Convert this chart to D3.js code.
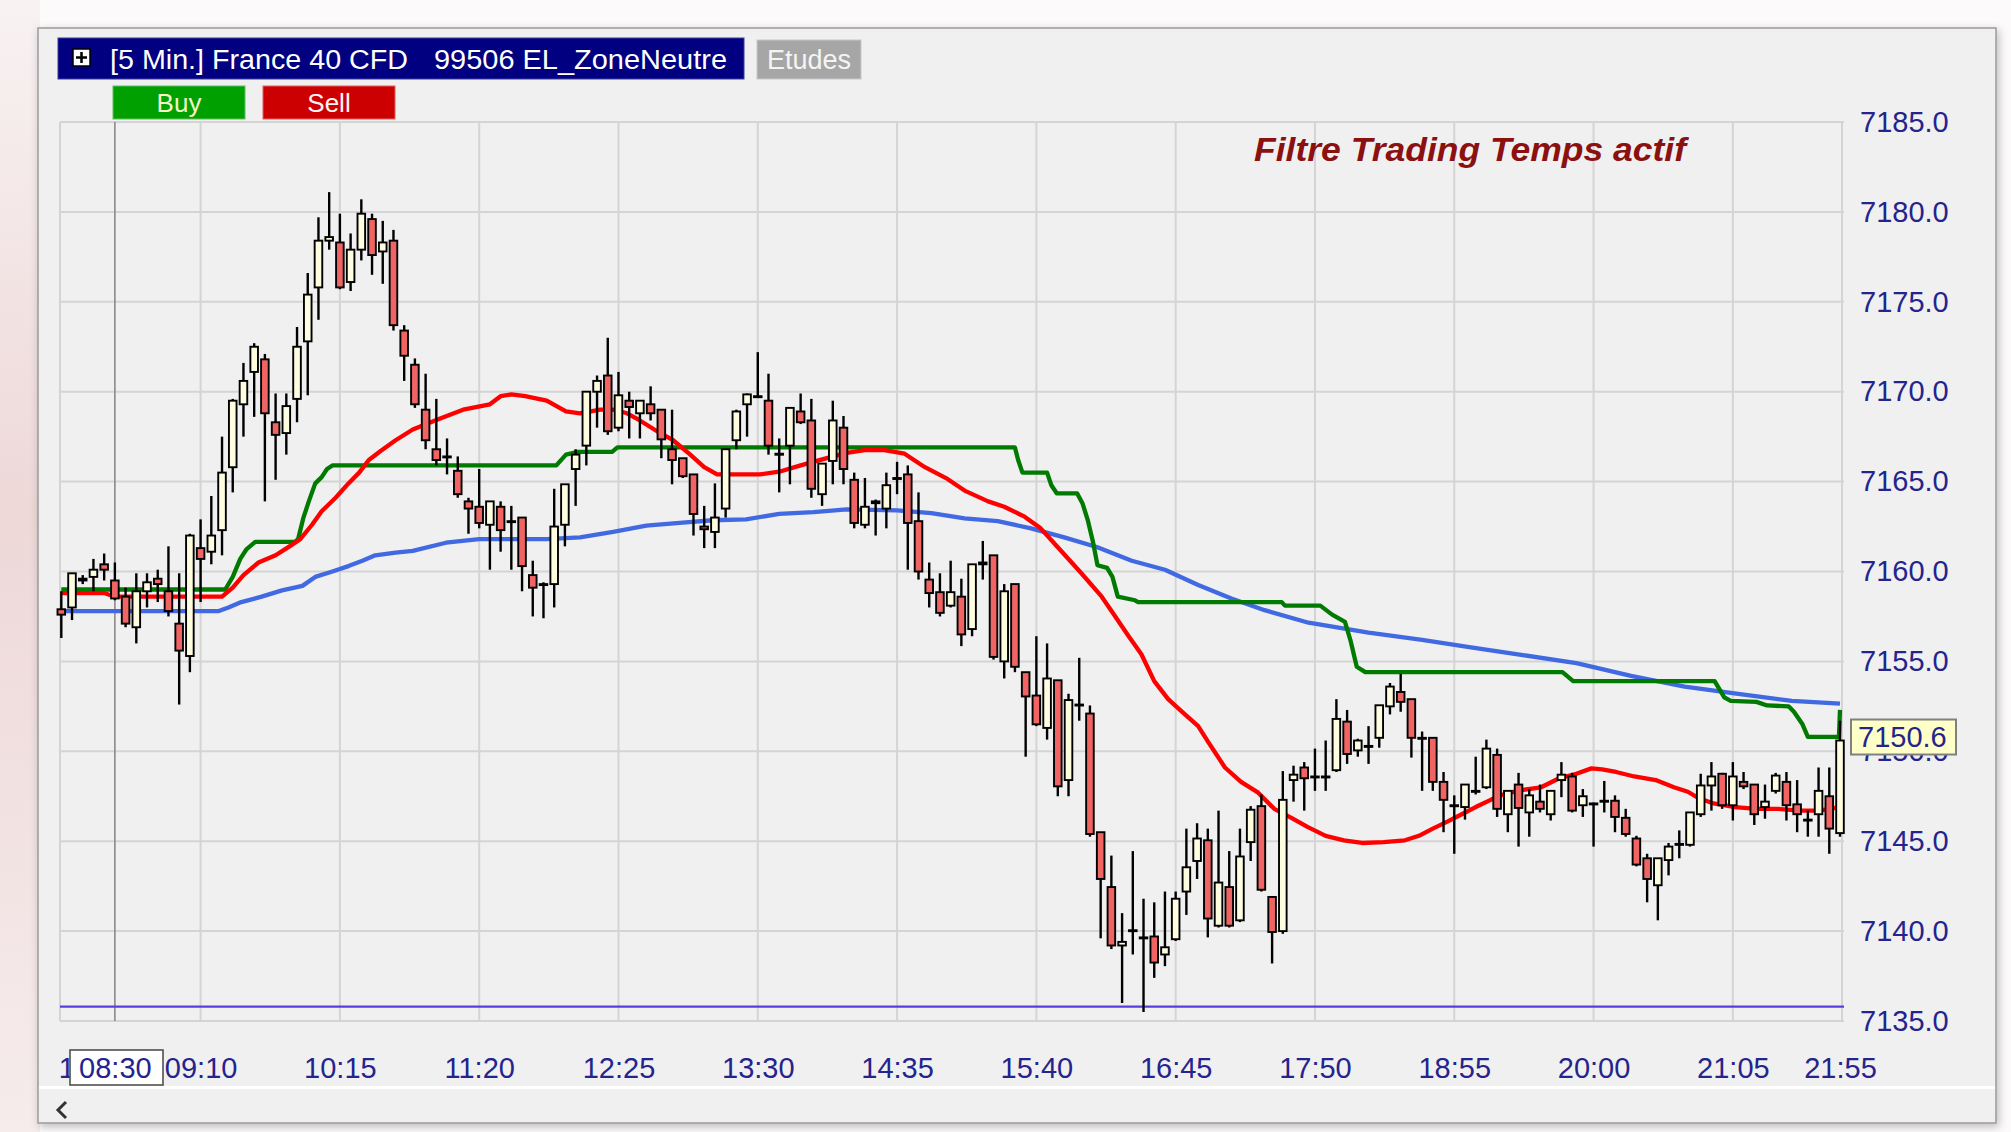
<!DOCTYPE html>
<html><head><meta charset="utf-8">
<script src="https://cdn.jsdelivr.net/npm/d3@7"></script>
<style>
html,body{margin:0;padding:0;background:#fcfafa;overflow:hidden;}
svg{display:block;}
text{font-family:"Liberation Sans",Arial,sans-serif;}
</style></head><body>
<svg id="c" width="2011" height="1132"></svg>
<script>
// ---------------- DATA ----------------
const firstBarTime = "08:05";   // 5-minute bars, one per index
const barOpen = [
7157.9,7158.0,7159.5,7159.7,7160.4,7159.5,7158.6,7156.9,7158.9,7159.6,
7158.9,7157.1,7155.3,7161.3,7161.1,7162.3,7165.8,7169.3,7171.1,7171.8,
7168.3,7167.7,7169.6,7172.8,7175.8,7178.4,7178.3,7176.1,7177.9,7179.6,
7177.8,7178.4,7173.4,7171.5,7169.0,7166.8,7166.4,7165.6,7163.9,7163.6,
7162.6,7163.6,7162.8,7163.0,7159.8,7159.3,7159.3,7162.6,7165.7,7167.0,
7170.0,7170.9,7168.0,7169.5,7168.8,7169.3,7169.0,7166.8,7166.3,7165.4,
7162.5,7162.2,7163.5,7167.3,7169.3,7169.7,7169.5,7166.5,7167.0,7168.9,
7168.4,7164.3,7166.15,7168.0,7165.1,7162.6,7163.8,7163.5,7165.15,7165.4,
7162.8,7159.55,7158.85,7158.1,7158.6,7156.8,7160.4,7160.9,7155.0,7159.3,
7154.4,7153.1,7151.3,7153.95,7148.4,7152.6,7152.1,7145.5,7142.45,7139.2,
7140.0,7139.6,7139.7,7138.7,7139.55,7142.2,7143.9,7145.05,7140.3,7142.45,
7140.6,7144.95,7146.95,7141.9,7140.0,7148.4,7149.1,7148.6,7148.55,7148.95,
7151.65,7150.05,7150.3,7150.75,7152.5,7153.3,7152.9,7150.75,7150.75,7148.3,
7147.0,7146.9,7147.75,7148.0,7149.8,7146.5,7148.15,7146.6,7147.2,7146.5,
7148.4,7148.6,7147.0,7147.1,7147.25,7147.25,7146.3,7145.15,7144.05,7142.55,
7143.95,7144.85,7144.8,7146.5,7148.1,7148.75,7147.0,7148.3,7148.15,7146.9,
7147.8,7148.3,7147.05,7146.2,7146.5,7147.5,7145.45];
const barHigh = [
7158.9,7159.9,7159.8,7160.7,7161.0,7160.5,7159.1,7159.9,7159.9,7160.1,
7161.4,7159.9,7162.1,7162.9,7164.2,7167.5,7169.6,7171.6,7172.7,7172.1,
7169.9,7169.9,7173.6,7176.6,7179.7,7181.1,7179.9,7178.8,7180.7,7179.9,
7179.5,7179.0,7173.7,7171.85,7171.0,7169.6,7167.4,7166.4,7164.1,7165.7,
7163.9,7163.9,7163.65,7163.0,7160.6,7159.4,7164.6,7164.85,7166.8,7170.0,
7170.9,7173.0,7171.1,7170.0,7169.5,7170.3,7169.0,7169.0,7166.3,7165.4,
7163.65,7164.9,7166.8,7169.0,7169.9,7172.2,7171.0,7167.4,7169.1,7169.9,
7169.6,7166.0,7169.5,7168.65,7165.5,7165.2,7164.0,7165.5,7166.1,7165.9,
7164.4,7160.5,7159.9,7160.6,7159.6,7160.4,7161.7,7160.9,7159.3,7159.3,
7154.4,7156.4,7156.0,7153.95,7153.2,7155.2,7152.55,7145.5,7144.2,7141.0,
7144.45,7141.8,7141.6,7142.2,7142.2,7145.7,7146.0,7145.7,7146.7,7144.45,
7145.7,7146.95,7147.6,7141.9,7148.9,7149.2,7149.4,7150.15,7150.6,7152.9,
7152.3,7150.7,7151.4,7152.56,7153.8,7154.3,7152.9,7151.1,7150.75,7148.85,
7147.55,7148.15,7149.7,7150.65,7150.15,7147.8,7148.8,7147.9,7148.15,7147.8,
7149.4,7148.8,7147.9,7147.15,7148.35,7147.55,7146.8,7145.3,7144.3,7144.05,
7144.9,7145.6,7146.6,7148.75,7149.4,7148.8,7149.4,7148.85,7148.15,7148.15,
7148.8,7148.85,7148.4,7146.7,7149.1,7149.1,7151.7];
const barLow = [
7156.3,7157.3,7159.3,7158.9,7159.5,7158.4,7156.9,7156.0,7158.0,7158.3,
7157.5,7152.6,7154.4,7158.3,7160.4,7160.9,7164.4,7167.5,7168.6,7163.9,
7165.1,7166.5,7168.3,7169.8,7174.0,7177.9,7175.7,7175.6,7177.3,7176.5,
7176.0,7173.4,7170.6,7169.1,7166.8,7165.9,7165.4,7164.1,7162.1,7162.4,
7160.1,7161.1,7160.1,7158.9,7157.5,7157.4,7158.0,7161.4,7163.65,7165.9,
7168.0,7167.6,7167.8,7167.4,7167.4,7168.4,7166.3,7164.85,7165.2,7162.0,
7161.3,7161.3,7163.0,7166.8,7167.5,7169.67,7166.5,7164.4,7164.85,7168.2,
7164.1,7163.65,7164.85,7164.85,7162.4,7162.4,7162.0,7162.4,7164.3,7160.1,
7159.55,7158.0,7157.5,7158.0,7155.85,7156.4,7159.55,7155.1,7154.05,7154.4,
7149.7,7151.4,7150.65,7147.5,7147.5,7151.7,7145.25,7139.6,7139.0,7136.0,
7138.7,7135.5,7137.4,7138.05,7139.45,7140.9,7142.9,7139.65,7140.2,7140.2,
7140.5,7143.9,7142.2,7138.2,7139.85,7147.2,7146.7,7147.8,7147.8,7148.85,
7149.3,7149.7,7149.3,7150.2,7152.05,7152.2,7149.65,7147.8,7147.8,7145.5,
7144.3,7146.2,7147.6,7147.9,7146.35,7145.5,7144.7,7145.25,7146.6,7146.15,
7147.45,7146.6,7146.35,7144.7,7146.6,7145.5,7145.25,7143.6,7141.6,7140.6,
7143.1,7144.05,7144.7,7146.35,7146.7,7146.8,7146.15,7147.9,7145.9,7146.25,
7147.65,7146.15,7145.5,7145.25,7145.25,7144.3,7145.25];
const barClose = [
7157.6,7159.9,7159.6,7160.1,7160.1,7158.5,7157.1,7158.9,7159.4,7159.3,
7157.8,7155.6,7162.0,7160.7,7162.0,7165.5,7169.5,7170.6,7172.5,7168.8,
7167.6,7169.2,7172.5,7175.4,7178.4,7178.6,7175.8,7177.9,7179.9,7177.6,
7178.3,7173.7,7172.0,7169.3,7167.3,7166.2,7166.35,7164.3,7163.5,7162.7,
7163.9,7162.3,7162.75,7160.3,7159.1,7159.3,7162.5,7164.85,7166.5,7170.0,
7170.6,7167.8,7169.8,7169.15,7169.5,7168.8,7167.35,7166.2,7165.3,7163.2,
7162.35,7163.0,7166.8,7168.9,7169.85,7169.75,7167.0,7166.55,7169.1,7168.3,
7164.6,7166.0,7168.4,7165.7,7162.7,7163.6,7163.9,7164.8,7165.2,7162.7,
7160.0,7158.8,7157.7,7158.85,7156.5,7160.4,7160.5,7155.25,7158.9,7154.7,
7153.05,7151.5,7154.05,7148.05,7152.85,7152.55,7145.4,7142.9,7139.2,7139.4,
7140.05,7139.65,7138.25,7139.1,7141.8,7143.55,7145.15,7140.7,7142.7,7140.3,
7144.15,7146.75,7142.3,7139.95,7147.3,7148.7,7148.5,7148.55,7148.6,7151.8,
7149.85,7150.6,7150.3,7152.56,7153.6,7152.75,7150.75,7150.7,7148.3,7147.3,
7147.0,7148.15,7147.8,7150.15,7146.8,7147.8,7146.85,7147.55,7146.8,7147.8,
7148.7,7146.7,7147.5,7147.1,7147.25,7146.35,7145.4,7143.7,7142.9,7144.05,
7144.7,7144.85,7146.6,7148.1,7148.6,7147.0,7148.6,7148.05,7146.5,7147.2,
7148.65,7147.0,7146.5,7146.2,7147.8,7145.7,7150.6];

const timeTicks  = ["08:30","09:10","10:15","11:20","12:25","13:30","14:35","15:40","16:45","17:50","18:55","20:00","21:05","21:55"];
const priceTicks = [7185,7180,7175,7170,7165,7160,7155,7150,7145,7140,7135];

// indicator lines: [bar index, value]
const redLine = [[0,7158.8],[4,7158.8],[5,7158.6],[15,7158.6],[16,7159.1],[17,7159.8],[18.4,7160.5],[20,7160.9],[21.3,7161.4],[22.3,7161.8],[23.4,7162.6],[24.3,7163.35],[25.6,7164.1],[26.8,7164.9],[27.8,7165.5],[28.7,7166.2],[29.8,7166.7],[31.2,7167.3],[32.8,7167.9],[35.3,7168.5],[37.5,7169.0],[40,7169.3],[41,7169.75],[42,7169.85],[43.3,7169.75],[45.3,7169.5],[47.1,7168.9],[48.4,7168.8],[50.3,7169.0],[51.5,7169.0],[52.8,7168.8],[54,7168.4],[55.6,7167.8],[57.1,7167.3],[58.7,7166.5],[60,7165.8],[61.2,7165.4],[62.7,7165.4],[65.2,7165.4],[67,7165.55],[69,7165.9],[71.1,7166.25],[73.3,7166.6],[75,7166.75],[76.8,7166.75],[78.7,7166.55],[80.6,7165.8],[82.7,7165.15],[84.3,7164.5],[86.5,7163.9],[88,7163.6],[89.9,7163.05],[91.4,7162.4],[93,7161.35],[95.2,7159.9],[97.1,7158.6],[98.3,7157.55],[99.5,7156.5],[100.8,7155.4],[102,7153.9],[103.3,7152.9],[104.5,7152.25],[106.1,7151.4],[107,7150.55],[108.6,7149.1],[110.1,7148.3],[111.7,7147.7],[113.2,7146.8],[114.8,7146.3],[116.3,7145.8],[118,7145.3],[119.7,7145.05],[121.4,7144.9],[123.4,7144.95],[125.4,7145.05],[126.7,7145.3],[128,7145.7],[129.4,7146.1],[130.7,7146.5],[132,7146.9],[133.4,7147.3],[134.8,7147.65],[136.4,7147.85],[138.1,7148.0],[139.8,7148.5],[141.4,7148.75],[142.8,7149.05],[143.8,7149.0],[145.1,7148.85],[146.8,7148.6],[148.8,7148.4],[150.5,7148.0],[151.8,7147.75],[152.8,7147.4],[154.2,7147.1],[156.2,7146.9],[158.2,7146.8],[160.2,7146.8],[162.2,7146.7],[164,7146.7],[166,7146.9]];
const blueLine = [[0,7157.8],[14.7,7157.8],[15.6,7158.0],[16.8,7158.3],[18.7,7158.6],[20.6,7158.95],[22.5,7159.2],[23.7,7159.7],[25.3,7160.0],[26.8,7160.3],[28.1,7160.6],[29.3,7160.9],[31.2,7161.05],[32.8,7161.15],[35.9,7161.6],[39,7161.8],[45.3,7161.8],[48.4,7161.9],[51.5,7162.2],[54.6,7162.55],[57.7,7162.7],[60.8,7162.85],[63.9,7162.9],[67,7163.2],[70.2,7163.3],[73.3,7163.45],[78,7163.4],[81.2,7163.25],[84.3,7162.95],[87.4,7162.8],[90.5,7162.4],[93.6,7161.9],[96.7,7161.35],[99.9,7160.6],[103,7160.1],[106.1,7159.25],[109.2,7158.5],[112.3,7157.85],[116.4,7157.15],[122,7156.6],[127,7156.2],[131.4,7155.8],[136.4,7155.35],[141.4,7154.9],[146.5,7154.2],[151.5,7153.6],[156.5,7153.2],[161.5,7152.8],[166,7152.65]];
const greenLine = [[0,7159.0],[15.3,7159.0],[16,7159.7],[16.7,7160.7],[17.3,7161.25],[18.1,7161.65],[21.8,7161.65],[22.1,7161.8],[22.6,7163.0],[23.1,7163.9],[23.7,7164.9],[24.3,7165.25],[24.8,7165.7],[25.3,7165.9],[46.2,7165.9],[47.1,7166.5],[48.2,7166.65],[51.4,7166.65],[51.9,7166.9],[89.0,7166.9],[89.3,7166.2],[89.7,7165.5],[92.0,7165.5],[92.4,7164.8],[92.9,7164.35],[94.8,7164.35],[95.3,7163.8],[95.8,7162.85],[96.3,7161.6],[96.7,7160.35],[97.6,7160.2],[98.1,7159.7],[98.6,7158.6],[100.2,7158.4],[100.5,7158.3],[113.9,7158.3],[114.2,7158.1],[117.5,7158.1],[118.6,7157.6],[119.8,7157.2],[120.3,7156.2],[120.9,7154.7],[121.7,7154.4],[140.1,7154.4],[141.1,7153.9],[154.3,7153.9],[155.2,7153.0],[155.8,7152.8],[158.2,7152.75],[159.2,7152.55],[161.2,7152.5],[161.7,7152.2],[162.5,7151.5],[163.0,7150.8],[165.9,7150.8],[166,7152.3]];
const zoneLevel = 7135.8;

// ---------------- DRAW ----------------
const W = 2011, H = 1132;
const svg = d3.select("#c");
const defs = svg.append("defs");
const lg = defs.append("linearGradient").attr("id","leftbg").attr("x1",0).attr("y1",0).attr("x2",0).attr("y2",1);
lg.append("stop").attr("offset","0%").attr("stop-color","#f8f2f2");
lg.append("stop").attr("offset","45%").attr("stop-color","#eed8d8");
lg.append("stop").attr("offset","100%").attr("stop-color","#f6ecec");
const sh = defs.append("filter").attr("id","sh").attr("x","-2%").attr("y","-2%").attr("width","104%").attr("height","104%");
sh.append("feDropShadow").attr("dx",2).attr("dy",3).attr("stdDeviation",4).attr("flood-color","#000").attr("flood-opacity",0.25);

svg.append("rect").attr("width",W).attr("height",H).attr("fill","#fcfafa");
svg.append("rect").attr("x",0).attr("y",0).attr("width",40).attr("height",H).attr("fill","url(#leftbg)");
svg.append("rect").attr("x",38).attr("y",28).attr("width",1958).attr("height",1095)
  .attr("fill","#f0f0f0").attr("stroke","#9a9a9a").attr("stroke-width",1.5).attr("filter","url(#sh)");

const nBars = barClose.length;
const x = d3.scaleLinear().domain([0, nBars-1]).range([61.3, 1840]);
const y = d3.scaleLinear().domain([7135, 7185]).range([1021, 122]);
const plotL = 60, plotR = 1844;

function toMin(t){const p=t.split(":");return +p[0]*60 + +p[1];}
const tickIdx = timeTicks.map(t => (toMin(t)-toMin(firstBarTime))/5);

// grid
const grid = svg.append("g");
grid.selectAll(".hg").data(priceTicks).join("line")
  .attr("x1",plotL).attr("x2",plotR).attr("y1",d=>y(d)).attr("y2",d=>y(d))
  .attr("stroke","#d4d4d4").attr("stroke-width",2);
const vIdx = tickIdx.filter((d,i)=> i>0 && i<timeTicks.length-1);
grid.selectAll(".vg").data(vIdx).join("line")
  .attr("x1",d=>x(d)).attr("x2",d=>x(d)).attr("y1",y(7185)).attr("y2",y(7135))
  .attr("stroke","#d4d4d4").attr("stroke-width",2);
grid.append("line").attr("x1",plotL).attr("x2",plotL).attr("y1",y(7185)).attr("y2",y(7135)).attr("stroke","#d4d4d4").attr("stroke-width",2);
grid.append("line").attr("x1",x(tickIdx[tickIdx.length-1])+2).attr("x2",x(tickIdx[tickIdx.length-1])+2).attr("y1",y(7185)).attr("y2",y(7135)).attr("stroke","#d4d4d4").attr("stroke-width",2);
grid.append("line").attr("x1",x(tickIdx[0])).attr("x2",x(tickIdx[0])).attr("y1",y(7185)).attr("y2",y(7135)).attr("stroke","#8a8a8a").attr("stroke-width",1.6);

// zone line
svg.append("line").attr("x1",plotL).attr("x2",plotR).attr("y1",y(zoneLevel)).attr("y2",y(zoneLevel))
  .attr("stroke","#5a3de0").attr("stroke-width",2.2);

// indicator lines
const ln = d3.line().x(d=>x(d[0])).y(d=>y(d[1]));
[[blueLine,"#4169e1"],[greenLine,"#007a00"],[redLine,"#ff0000"]].forEach(([data,col])=>{
  svg.append("path").attr("d",ln(data)).attr("fill","none").attr("stroke",col)
    .attr("stroke-width",4.3).attr("stroke-linejoin","round");
});

// candles
const bars = d3.range(nBars);
const cg = svg.append("g");
cg.selectAll(".wick").data(bars).join("line")
  .attr("x1",i=>x(i)).attr("x2",i=>x(i)).attr("y1",i=>y(barHigh[i])).attr("y2",i=>y(barLow[i]))
  .attr("stroke","#000").attr("stroke-width",2.4);
cg.selectAll(".body").data(bars).join("rect")
  .attr("x",i=>x(i)-3.8).attr("width",7.6)
  .attr("y",i=>y(Math.max(barOpen[i],barClose[i])))
  .attr("height",i=>Math.max(1,Math.abs(y(barOpen[i])-y(barClose[i]))))
  .attr("fill",i=>barClose[i]>=barOpen[i]?"#fffde0":"#f06464")
  .attr("stroke","#000").attr("stroke-width",1.9);

// y axis
const yAxis = d3.axisRight(y).tickValues(priceTicks).tickFormat(d3.format(".1f")).tickSize(0).tickPadding(0);
const gy = svg.append("g").attr("transform","translate(1860,0)").call(yAxis)
  .attr("font-size",29).attr("font-family","Liberation Sans, Arial, sans-serif");
gy.select(".domain").remove();
gy.selectAll("text").attr("fill","#24248c");

// x axis
svg.append("text").attr("x",75).attr("y",1078).attr("text-anchor","end").attr("font-size",29).attr("fill","#24248c").text("1");
svg.append("rect").attr("x",70).attr("y",1050).attr("width",93).attr("height",35).attr("fill","#ffffff").attr("stroke","#505050").attr("stroke-width",1.6);
const xAxis = d3.axisBottom(x).tickValues(tickIdx).tickFormat((d,i)=>timeTicks[i]).tickSize(0).tickPadding(0);
const gx = svg.append("g").attr("transform","translate(0,1057)").call(xAxis)
  .attr("font-size",29).attr("font-family","Liberation Sans, Arial, sans-serif");
gx.select(".domain").remove();
gx.selectAll("text").attr("fill","#24248c");

// last price box (covers the 7150.0 label, as in the platform)
const lastY = y(barClose[nBars-1]);
svg.append("rect").attr("x",1851).attr("y",lastY-21).attr("width",105).attr("height",35)
  .attr("fill","#ffffc8").attr("stroke","#808080").attr("stroke-width",2);
svg.append("text").attr("x",1858).attr("y",lastY+6).attr("font-size",29).attr("fill","#24248c")
  .text(d3.format(".1f")(barClose[nBars-1]));

// bottom scroll area
svg.append("rect").attr("x",39).attr("y",1086).attr("width",1956).attr("height",3).attr("fill","#ffffff");
svg.append("path").attr("d","M66,1102L58,1110L66,1118").attr("fill","none").attr("stroke","#333").attr("stroke-width",3);

// header
svg.append("rect").attr("x",58).attr("y",38).attr("width",686).attr("height",41).attr("fill","#000080").attr("stroke","#3a3aa0");
svg.append("rect").attr("x",73).attr("y",49).attr("width",17).attr("height",17).attr("fill","#fff").attr("stroke","#000").attr("stroke-width",1.5);
svg.append("path").attr("d","M76,57.5H87M81.5,52V63").attr("stroke","#000").attr("stroke-width",2.5);
svg.append("text").attr("x",110).attr("y",69).attr("font-size",27).attr("fill","#ffffff")
  .attr("textLength",298).attr("lengthAdjust","spacingAndGlyphs").text("[5 Min.] France 40 CFD");
svg.append("text").attr("x",434).attr("y",69).attr("font-size",27).attr("fill","#ffffff")
  .attr("textLength",293).attr("lengthAdjust","spacingAndGlyphs").text("99506 EL_ZoneNeutre");
svg.append("rect").attr("x",757).attr("y",40).attr("width",104).attr("height",39).attr("fill","#a6a6a6").attr("stroke","#c8c8c8");
svg.append("text").attr("x",809).attr("y",69).attr("text-anchor","middle").attr("font-size",27).attr("fill","#f4f4f4").text("Etudes");

svg.append("rect").attr("x",113).attr("y",86).attr("width",132).attr("height",33).attr("fill","#00a000").attr("stroke","#60c060");
svg.append("text").attr("x",179).attr("y",112).attr("text-anchor","middle").attr("font-size",26).attr("fill","#f4f4c4").text("Buy");
svg.append("rect").attr("x",263).attr("y",86).attr("width",132).attr("height",33).attr("fill","#cc0000").attr("stroke","#e06060");
svg.append("text").attr("x",329).attr("y",112).attr("text-anchor","middle").attr("font-size",26).attr("fill","#fff4f4").text("Sell");

// annotation
svg.append("text").attr("x",1254).attr("y",161).attr("font-size",34).attr("font-weight","bold").attr("font-style","italic")
  .attr("fill","#8b1010").attr("textLength",432).attr("lengthAdjust","spacingAndGlyphs").text("Filtre Trading Temps actif");
</script>
</body></html>
